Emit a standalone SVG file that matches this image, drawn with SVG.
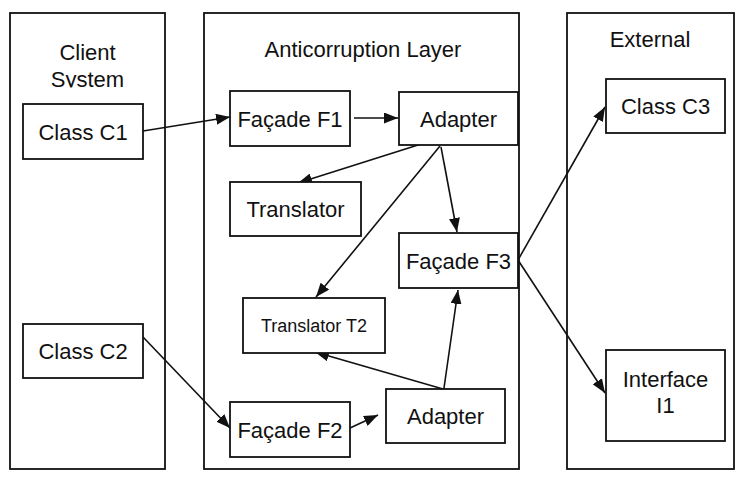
<svg xmlns="http://www.w3.org/2000/svg" width="745" height="481" viewBox="0 0 745 481">
<style>
.box{fill:#fff;stroke:#111;stroke-width:1.8}
.cont{fill:none;stroke:#111;stroke-width:1.8}
.t{font-family:"Liberation Sans",Arial,sans-serif;font-size:22px;fill:#111;text-anchor:middle}
.ts{font-size:18px}
.c{stroke:#111;stroke-width:1.6;fill:none;marker-end:url(#ah)}
</style>
<defs>
<marker id="ah" markerUnits="userSpaceOnUse" markerWidth="15" markerHeight="11" refX="14" refY="5.5" orient="auto" viewBox="0 0 15 11">
<path d="M0,0 L14,5.5 L0,11 z" fill="#111"/>
</marker>
<clipPath id="clipSys"><rect x="10" y="60" width="155" height="27.5"/></clipPath>
</defs>
<rect width="745" height="481" fill="#fff"/>
<g id="client-system">
<rect class="cont" x="10" y="13" width="155" height="456"/>
<text class="t" x="87.5" y="60">Client</text>
<text class="t" x="87.5" y="87" clip-path="url(#clipSys)">System</text>
</g>
<g id="anticorruption-layer">
<rect class="cont" x="204" y="13" width="315" height="456"/>
<text class="t" x="363" y="57">Anticorruption Layer</text>
</g>
<g id="external">
<rect class="cont" x="567" y="13" width="167" height="456"/>
<text class="t" x="650" y="47">External</text>
</g>
<g id="connectors">
<line class="c" x1="143" y1="131" x2="230" y2="117"/>
<line class="c" x1="354" y1="118" x2="398" y2="118"/>
<line class="c" x1="437" y1="139" x2="298" y2="183"/>
<line class="c" x1="440" y1="146" x2="316" y2="297"/>
<line class="c" x1="441" y1="147" x2="457" y2="232"/>
<line class="c" x1="518" y1="260" x2="605" y2="107"/>
<line class="c" x1="518" y1="260" x2="605" y2="393"/>
<line class="c" x1="143" y1="337" x2="230" y2="428"/>
<line class="c" x1="350" y1="428" x2="378" y2="415"/>
<line class="c" x1="443" y1="389" x2="315" y2="352"/>
<line class="c" x1="443" y1="395" x2="458" y2="290"/>
</g>
<g id="class-c1">
<rect class="box" x="23" y="104" width="120" height="55"/>
<text class="t" x="83" y="139.5">Class C1</text>
</g>
<g id="facade-f1">
<rect class="box" x="230" y="91" width="120" height="55"/>
<text class="t" x="290" y="126.5">Façade F1</text>
</g>
<g id="adapter-top">
<rect class="box" x="399" y="92" width="119" height="53"/>
<text class="t" x="458.5" y="127">Adapter</text>
</g>
<g id="translator">
<rect class="box" x="230" y="182" width="131" height="54"/>
<text class="t" x="295.5" y="217">Translator</text>
</g>
<g id="facade-f3">
<rect class="box" x="399" y="233" width="119" height="55"/>
<text class="t" x="458.5" y="268.5">Façade F3</text>
</g>
<g id="translator-t2">
<rect class="box" x="243" y="298" width="142" height="55"/>
<text class="t ts" x="314" y="332">Translator T2</text>
</g>
<g id="class-c2">
<rect class="box" x="23" y="324" width="120" height="54"/>
<text class="t" x="83" y="359">Class C2</text>
</g>
<g id="facade-f2">
<rect class="box" x="230" y="402" width="120" height="55"/>
<text class="t" x="290" y="437.5">Façade F2</text>
</g>
<g id="adapter-bottom">
<rect class="box" x="386" y="389" width="119" height="54"/>
<text class="t" x="445.5" y="424">Adapter</text>
</g>
<g id="class-c3">
<rect class="box" x="606" y="79" width="119" height="54"/>
<text class="t" x="665.5" y="114">Class C3</text>
</g>
<g id="interface-i1">
<rect class="box" x="606" y="350" width="119" height="91"/>
<text class="t" x="665.5" y="387">Interface</text>
<text class="t" x="665.5" y="413">I1</text>
</g>
</svg>
